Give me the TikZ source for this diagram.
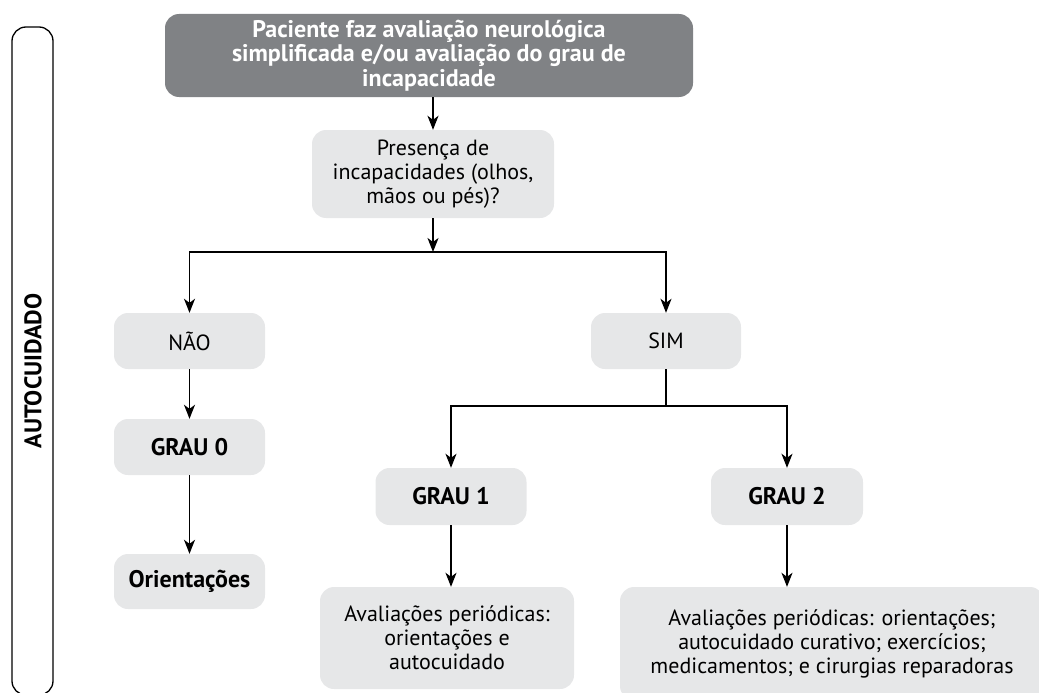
\documentclass[tikz,border=0pt]{standalone}
\usepackage{fontspec}
\setmainfont{PT Sans}
\usetikzlibrary{arrows.meta}
\definecolor{topgray}{RGB}{128,130,133}
\definecolor{boxgray}{RGB}{230,231,232}
\begin{document}
\begin{tikzpicture}[x=1pt,y=-1pt]
\tikzstyle{box}=[rectangle,rounded corners=14pt,align=center,fill=boxgray,inner sep=0pt,font=\fontsize{22}{24}\selectfont]
\tikzstyle{boldbox}=[box,font=\fontsize{24}{25}\selectfont\bfseries]
\tikzstyle{topbox}=[box,fill=topgray,text=white,font=\fontsize{24}{24.5}\selectfont\bfseries]
\tikzstyle{arr}=[line width=1.5pt,-{Stealth[length=14pt,width=11pt,inset=4pt]}]
\tikzstyle{link}=[line width=1.5pt]
\useasboundingbox (0,0) rectangle (1039,693);
% side bracket
\draw[line width=1.3pt,rounded corners=14pt] (12,27) rectangle (53,695);
\node[rotate=90,font=\fontsize{24}{25}\selectfont\bfseries] at(33, 371) (side) {AUTOCUIDADO};
% boxes
\node[topbox,minimum width=528pt,minimum height=83pt] at(429, 55.5) (pac) {Paciente faz avaliação neurológica\\
                         simplificada e/ou avaliação do grau de\\
                         incapacidade};
\node[box,minimum width=242pt,minimum height=88pt] at(433, 174) (pres) {Presença de\\
                         incapacidades (olhos,\\
                         mãos ou pés)?};
\node[box,minimum width=151pt,minimum height=56pt] at(189.5, 341) (nao) {NÃO};
\node[box,minimum width=150pt,minimum height=56pt] at(666, 341) (sim) {SIM};
\node[boldbox,minimum width=151pt,minimum height=56pt] at(189.5, 447) (g0) {GRAU 0};
\node[boldbox,minimum width=151pt,minimum height=55pt] at(189.5, 581.5) (ori) {Orientações};
\node[boldbox,minimum width=151pt,minimum height=57pt] at(451, 496.5) (g1) {GRAU 1};
\node[boldbox,minimum width=152pt,minimum height=57pt] at(787, 496.5) (g2) {GRAU 2};
\node[box,minimum width=254pt,minimum height=102pt] at(447, 638) (av1) {Avaliações periódicas:\\
                         orientações e\\
                         autocuidado};
\node[box,minimum width=424pt,minimum height=113pt] at(832, 643.5) (av2) {Avaliações periódicas: orientações;\\
                         autocuidado curativo; exercícios;\\
                         medicamentos; e cirurgias reparadoras};
% connectors
\coordinate (j1) at (433, 252);
\coordinate (j2) at (666, 406);
\draw[arr] (pres |- pac.south) -- (pres);
\draw[arr] (pres) -- (j1);
\draw[arr] (j1) -| (nao);
\draw[arr] (j1) -| (sim);
\draw[arr] (nao) -- (g0);
\draw[arr] (g0) -- (ori);
\draw[link] (sim) -- (j2);
\draw[arr] (j2) -| (g1);
\draw[arr] (j2) -| (g2);
\draw[arr] (g1) -- (g1 |- av1.north);
\draw[arr] (g2) -- (g2 |- av2.north);
\end{tikzpicture}
\end{document}
